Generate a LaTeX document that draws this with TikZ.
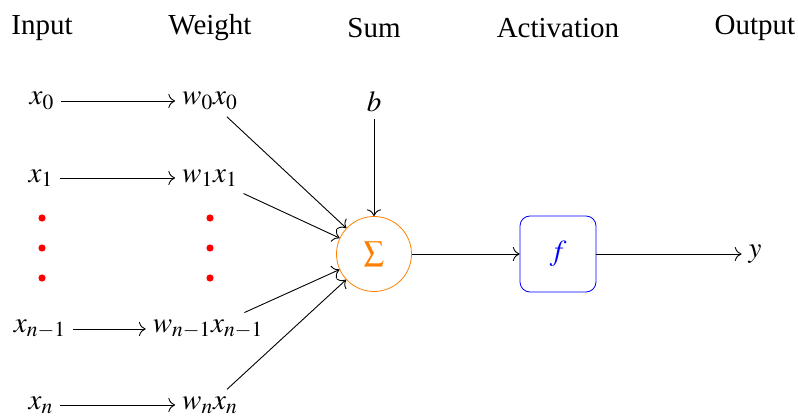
\documentclass[tikz,border=0pt]{standalone}
\usepackage{mathptmx}
\usepackage{fontspec}
\setmainfont{Liberation Serif}
\usetikzlibrary{positioning,arrows.meta}
\tikzset{
    reddot/.style={circle,fill=red,minimum size=3.6pt,inner sep=0pt},
    sumnode/.style={circle,draw=orange,text=orange,minimum size=37.5pt,inner sep=0pt},
    actbox/.style={draw=blue,text=blue,rounded corners=5pt,minimum size=38pt,inner sep=0pt},
    arrow/.style={-{To[scale=1.3]},line width=0.45pt}
}
\begin{document}
\begin{tikzpicture}[x=0.5pt,y=-0.5pt,every node/.style={font=\fontsize{14.5}{17}\selectfont}]
    \useasboundingbox (0,0) rectangle (798,417);
    % column titles
    \node (hin) at (42,28) {Input};
    \node (hw) at (210,28) {Weight};
    \node (hsum) at (374,28) {Sum};
    \node (hact) at (558,28) {Activation};
    \node (hout) at (755,28) {Output};
    % inputs and weights
    \node (x0) at (42,101) {$x_0$};
    \node (w0) at (210,101) {$w_0x_0$};
    \node (x1) at (41,178) {$x_1$};
    \node (w1) at (210,178) {$w_1x_1$};
    \node (xm) at (40,329) {$x_{n-1}$};
    \node (wm) at (208,329) {$w_{n-1}x_{n-1}$};
    \node (xn) at (41,405) {$x_n$};
    \node (wn) at (210,405) {$w_nx_n$};
    \foreach \yy/\k in {218/1,248/2,278/3} {
        \node[reddot] (dx\k) at (42,\yy) {};
        \node[reddot] (dw\k) at (210,\yy) {};
    }
    % neuron
    \node (b) at (374,102) {$b$};
    \node[sumnode] (sum) at (374,254) {$\sum$};
    \node[actbox] (act) at (558,254) {$f$};
    \node (y) at (755,254) {$y$};
    \draw[arrow] (x0) -- (w0);
    \draw[arrow] (x1) -- (w1);
    \draw[arrow] (xm) -- (wm);
    \draw[arrow] (xn) -- (wn);
    \draw[arrow] (w0) -- (sum);
    \draw[arrow] (w1) -- (sum);
    \draw[arrow] (wm) -- (sum);
    \draw[arrow] (wn) -- (sum);
    \draw[arrow] (b) -- (sum);
    \draw[arrow] (sum) -- (act);
    \draw[arrow] (act) -- (y);
\end{tikzpicture}
\end{document}
